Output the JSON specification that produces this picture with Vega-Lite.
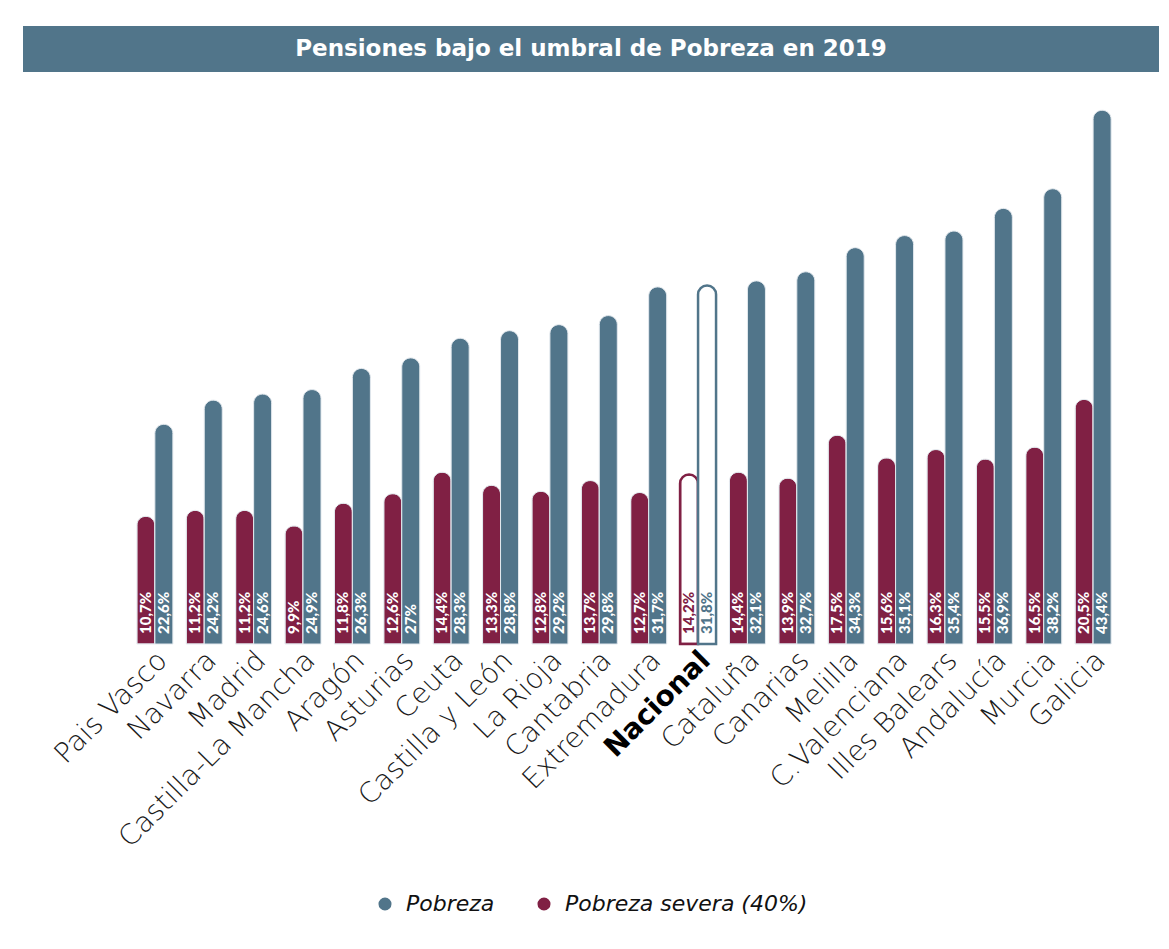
{
  "$schema": "https://vega.github.io/schema/vega-lite/v6.json",
  "background": "white",
  "padding": {"left": 23, "top": 26, "right": 0, "bottom": 0},
  "spacing": 28,
  "center": true,
  "bounds": "flush",
  "config": {
    "view": {"stroke": null},
    "font": "Lato",
    "legend": {"layout": {"bottom": {"anchor": "middle"}}}
  },
  "datasets": {
    "d": [
      {"region": "Pais Vasco", "serie": "Pobreza severa (40%)", "valor": 10.7},
      {"region": "Pais Vasco", "serie": "Pobreza", "valor": 22.6},
      {"region": "Navarra", "serie": "Pobreza severa (40%)", "valor": 11.2},
      {"region": "Navarra", "serie": "Pobreza", "valor": 24.2},
      {"region": "Madrid", "serie": "Pobreza severa (40%)", "valor": 11.2},
      {"region": "Madrid", "serie": "Pobreza", "valor": 24.6},
      {"region": "Castilla-La Mancha", "serie": "Pobreza severa (40%)", "valor": 9.9},
      {"region": "Castilla-La Mancha", "serie": "Pobreza", "valor": 24.9},
      {"region": "Aragón", "serie": "Pobreza severa (40%)", "valor": 11.8},
      {"region": "Aragón", "serie": "Pobreza", "valor": 26.3},
      {"region": "Asturias", "serie": "Pobreza severa (40%)", "valor": 12.6},
      {"region": "Asturias", "serie": "Pobreza", "valor": 27},
      {"region": "Ceuta", "serie": "Pobreza severa (40%)", "valor": 14.4},
      {"region": "Ceuta", "serie": "Pobreza", "valor": 28.3},
      {"region": "Castilla y León", "serie": "Pobreza severa (40%)", "valor": 13.3},
      {"region": "Castilla y León", "serie": "Pobreza", "valor": 28.8},
      {"region": "La Rioja", "serie": "Pobreza severa (40%)", "valor": 12.8},
      {"region": "La Rioja", "serie": "Pobreza", "valor": 29.2},
      {"region": "Cantabria", "serie": "Pobreza severa (40%)", "valor": 13.7},
      {"region": "Cantabria", "serie": "Pobreza", "valor": 29.8},
      {"region": "Extremadura", "serie": "Pobreza severa (40%)", "valor": 12.7},
      {"region": "Extremadura", "serie": "Pobreza", "valor": 31.7},
      {"region": "Nacional", "serie": "Pobreza severa (40%)", "valor": 14.2},
      {"region": "Nacional", "serie": "Pobreza", "valor": 31.8},
      {"region": "Cataluña", "serie": "Pobreza severa (40%)", "valor": 14.4},
      {"region": "Cataluña", "serie": "Pobreza", "valor": 32.1},
      {"region": "Canarias", "serie": "Pobreza severa (40%)", "valor": 13.9},
      {"region": "Canarias", "serie": "Pobreza", "valor": 32.7},
      {"region": "Melilla", "serie": "Pobreza severa (40%)", "valor": 17.5},
      {"region": "Melilla", "serie": "Pobreza", "valor": 34.3},
      {"region": "C.Valenciana", "serie": "Pobreza severa (40%)", "valor": 15.6},
      {"region": "C.Valenciana", "serie": "Pobreza", "valor": 35.1},
      {"region": "Illes Balears", "serie": "Pobreza severa (40%)", "valor": 16.3},
      {"region": "Illes Balears", "serie": "Pobreza", "valor": 35.4},
      {"region": "Andalucía", "serie": "Pobreza severa (40%)", "valor": 15.5},
      {"region": "Andalucía", "serie": "Pobreza", "valor": 36.9},
      {"region": "Murcia", "serie": "Pobreza severa (40%)", "valor": 16.5},
      {"region": "Murcia", "serie": "Pobreza", "valor": 38.2},
      {"region": "Galicia", "serie": "Pobreza severa (40%)", "valor": 20.5},
      {"region": "Galicia", "serie": "Pobreza", "valor": 43.4}
    ],
    "titulo": [{"t": "Pensiones bajo el umbral de Pobreza en 2019"}]
  },
  "vconcat": [
    {
      "width": 1136,
      "height": 46,
      "view": {"fill": "#51758a", "stroke": null},
      "data": {"name": "titulo"},
      "mark": {"type": "text", "font": "DejaVu Sans", "fontWeight": "bold", "fontSize": 23, "color": "white", "align": "center", "baseline": "middle"},
      "encoding": {"text": {"field": "t", "type": "nominal"}}
    },
    {
      "width": 1073,
      "height": 544,
      "data": {"name": "d"},
      "transform": [
        {"calculate": "replace(format(datum.valor, '.1~f'), '.', ',') + '%'", "as": "etiqueta"}
      ],
      "encoding": {
        "x": {
          "field": "region",
          "type": "nominal",
          "sort": null,
          "scale": {
            "domain": ["Pais Vasco", "Navarra", "Madrid", "Castilla-La Mancha", "Aragón", "Asturias", "Ceuta", "Castilla y León", "La Rioja", "Cantabria", "Extremadura", "Nacional", "Cataluña", "Canarias", "Melilla", "C.Valenciana", "Illes Balears", "Andalucía", "Murcia", "Galicia"],
            "paddingInner": 0.271,
            "paddingOuter": 1,
            "align": 0.834
          },
          "axis": {
            "title": null,
            "labelAngle": -45,
            "labelAlign": "right",
            "labelBaseline": "middle",
            "labelFont": "DejaVu Sans",
            "labelFontSize": 28,
            "labelFontWeight": {"condition": {"test": "datum.value === 'Nacional'", "value": "bold"}, "value": 200},
            "labelColor": {"condition": {"test": "datum.value === 'Nacional'", "value": "#000000"}, "value": "#1a1a1a"},
            "labelLimit": 500,
            "labelPadding": 12,
            "labelOffset": 8,
            "ticks": false,
            "domain": false,
            "grid": false
          }
        },
        "xOffset": {
          "field": "serie",
          "type": "nominal",
          "scale": {"domain": ["Pobreza severa (40%)", "Pobreza"], "paddingInner": 0, "paddingOuter": 0}
        }
      },
      "layer": [
        {
          "transform": [{"filter": "datum.serie !== 'Pobreza'"}],
          "layer": [
            {
              "mark": {"type": "bar", "cornerRadiusTopLeft": 9, "cornerRadiusTopRight": 9},
              "encoding": {
                "y": {"field": "valor", "type": "quantitative", "scale": {"domain": [0, 45.6], "nice": false, "zero": true}, "axis": null},
                "fill": {
                  "condition": {"test": "datum.region === 'Nacional'", "value": "white"},
                  "field": "serie",
                  "type": "nominal",
                  "scale": {"domain": ["Pobreza", "Pobreza severa (40%)"], "range": ["#51758a", "#802044"]},
                  "legend": {
                    "orient": "bottom",
                    "direction": "horizontal",
                    "title": null,
                    "symbolType": "circle",
                    "symbolSize": 170,
                    "symbolStrokeWidth": 0,
                    "labelFont": "DejaVu Sans",
                    "labelFontStyle": "italic",
                    "labelFontWeight": 200,
                    "labelFontSize": 22,
                    "labelColor": "#111111",
                    "labelLimit": 500,
                    "columnPadding": 38,
                    "labelOffset": 10,
                    "offset": 40
                  }
                },
                "stroke": {
                  "condition": {"test": "datum.region !== 'Nacional'", "value": "#e3e9ee"},
                  "field": "serie",
                  "type": "nominal",
                  "scale": {"domain": ["Pobreza", "Pobreza severa (40%)"], "range": ["#51758a", "#802044"]},
                  "legend": null
                },
                "strokeWidth": {"condition": {"test": "datum.region === 'Nacional'", "value": 2.5}, "value": 1}
              }
            },
            {
              "mark": {"type": "text", "angle": 270, "align": "left", "baseline": "middle", "dx": 10, "font": "Lato", "fontWeight": 900, "fontSize": 15},
              "encoding": {
                "y": {"datum": 0, "type": "quantitative"},
                "text": {"field": "etiqueta", "type": "nominal"},
                "color": {"condition": {"test": "datum.region === 'Nacional'", "value": "#802044"}, "value": "white"}
              }
            }
          ]
        },
        {
          "transform": [{"filter": "datum.serie === 'Pobreza'"}],
          "layer": [
            {
              "mark": {"type": "bar", "cornerRadiusTopLeft": 9, "cornerRadiusTopRight": 9},
              "encoding": {
                "y": {"field": "valor", "type": "quantitative", "scale": {"domain": [8.05, 44.08], "nice": false, "zero": false}, "axis": null},
                "y2": {"datum": 8.05},
                "fill": {
                  "condition": {"test": "datum.region === 'Nacional'", "value": "white"},
                  "field": "serie",
                  "type": "nominal",
                  "scale": {"domain": ["Pobreza", "Pobreza severa (40%)"], "range": ["#51758a", "#802044"]}
                },
                "stroke": {
                  "condition": {"test": "datum.region !== 'Nacional'", "value": "#e3e9ee"},
                  "field": "serie",
                  "type": "nominal",
                  "scale": {"domain": ["Pobreza", "Pobreza severa (40%)"], "range": ["#51758a", "#802044"]},
                  "legend": null
                },
                "strokeWidth": {"condition": {"test": "datum.region === 'Nacional'", "value": 2.5}, "value": 1}
              }
            },
            {
              "mark": {"type": "text", "angle": 270, "align": "left", "baseline": "middle", "dx": 10, "font": "Lato", "fontWeight": 900, "fontSize": 15},
              "encoding": {
                "y": {"datum": 8.05, "type": "quantitative"},
                "text": {"field": "etiqueta", "type": "nominal"},
                "color": {"condition": {"test": "datum.region === 'Nacional'", "value": "#51758a"}, "value": "white"}
              }
            }
          ]
        }
      ],
      "resolve": {"scale": {"y": "independent"}}
    }
  ]
}
